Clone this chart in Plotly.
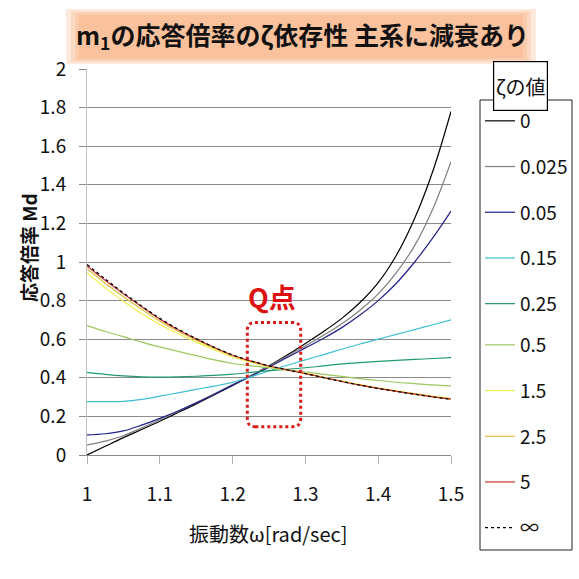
import plotly.graph_objects as go

# ---- data ----
omega = [1.000, 1.025, 1.050, 1.075, 1.100, 1.125, 1.150, 1.175, 1.200, 1.225, 1.250,
         1.275, 1.300, 1.325, 1.350, 1.375, 1.400, 1.425, 1.450, 1.475, 1.500]

md_z0    = [0.00, 0.045, 0.09, 0.132, 0.175, 0.22, 0.265, 0.312, 0.36, 0.41, 0.462,
            0.518, 0.578, 0.64, 0.708, 0.79, 0.893, 1.035, 1.225, 1.47, 1.78]
md_z0025 = [0.052, 0.072, 0.10, 0.14, 0.182, 0.225, 0.27, 0.317, 0.365, 0.41, 0.46,
            0.512, 0.565, 0.62, 0.68, 0.75, 0.835, 0.945, 1.085, 1.275, 1.52]
md_z005  = [0.104, 0.11, 0.125, 0.155, 0.19, 0.228, 0.27, 0.315, 0.362, 0.408, 0.455,
            0.505, 0.555, 0.605, 0.66, 0.725, 0.80, 0.89, 1.0, 1.125, 1.264]
md_z015  = [0.277, 0.277, 0.278, 0.288, 0.305, 0.322, 0.34, 0.357, 0.376, 0.405, 0.435,
            0.465, 0.493, 0.52, 0.548, 0.575, 0.60, 0.625, 0.65, 0.675, 0.70]
md_z025  = [0.428, 0.418, 0.41, 0.405, 0.404, 0.405, 0.408, 0.413, 0.419, 0.428, 0.437,
            0.444, 0.452, 0.462, 0.472, 0.479, 0.485, 0.49, 0.495, 0.50, 0.505]
md_z05   = [0.67, 0.64, 0.613, 0.585, 0.56, 0.537, 0.515, 0.493, 0.474, 0.462, 0.452,
            0.441, 0.43, 0.418, 0.407, 0.396, 0.386, 0.377, 0.37, 0.363, 0.358]
md_z15   = [0.944, 0.866, 0.797, 0.733, 0.676, 0.628, 0.585, 0.545, 0.508, 0.481, 0.458,
            0.44, 0.424, 0.403, 0.383, 0.365, 0.348, 0.333, 0.318, 0.305, 0.293]
md_z25   = [0.965, 0.89, 0.82, 0.755, 0.693, 0.641, 0.595, 0.553, 0.514, 0.485, 0.46,
            0.441, 0.423, 0.402, 0.382, 0.363, 0.346, 0.331, 0.316, 0.302, 0.29]
md_z5    = [0.98, 0.905, 0.835, 0.768, 0.704, 0.649, 0.601, 0.557, 0.517, 0.487, 0.461,
            0.441, 0.422, 0.401, 0.381, 0.362, 0.345, 0.33, 0.315, 0.301, 0.289]
md_zinf  = [0.987, 0.912, 0.84, 0.772, 0.708, 0.652, 0.603, 0.558, 0.518, 0.488, 0.462,
            0.441, 0.422, 0.401, 0.381, 0.362, 0.345, 0.33, 0.315, 0.301, 0.289]

zeta_labels = ["0", "0.025", "0.05", "0.15", "0.25", "0.5", "1.5", "2.5", "5", "∞"]
series = [md_z0, md_z0025, md_z005, md_z015, md_z025, md_z05, md_z15, md_z25, md_z5, md_zinf]
colors = ["#000000", "#7f7f7f", "#22228a", "#3fbfd2", "#1f9a6e", "#9cc85e",
          "#f2ee4c", "#d9c23c", "#c83030", "#000000"]
dashes = ["solid"] * 9 + ["dot"]
widths = [1.2] * 9 + [1.3]

W, H = 579, 579
L, R, T, B = 87, 128, 69, 124


def xp(px):
    return (px - L) / (W - L - R)


def yp(py):
    return (H - B - py) / (H - T - B)


FONT = "Noto Sans CJK JP, sans-serif"

fig = go.Figure()
for i, (lab, ys) in enumerate(zip(zeta_labels, series)):
    fig.add_trace(go.Scatter(
        x=omega, y=ys, mode="lines", name=lab,
        legend="legend" if i < 5 else "legend2",
        legendgroup="g%d" % i,
        line=dict(color=colors[i], width=widths[i], dash=dashes[i], shape="spline", smoothing=1.0),
        hoverinfo="skip",
    ))

shapes = []
# soft orange title background
for (x0, y0, x1, y1) in [(66, 9, 536, 64), (71, 11, 531, 62), (75, 13, 527, 60), (79, 15, 523, 58)]:
    shapes.append(dict(type="rect", xref="paper", yref="paper",
                       x0=xp(x0), x1=xp(x1), y0=yp(y1), y1=yp(y0),
                       fillcolor="#f5a064", opacity=0.22, line=dict(width=0), layer="below"))

# legend frame
shapes.append(dict(type="rect", xref="paper", yref="paper",
                   x0=xp(480), x1=xp(572), y0=yp(550), y1=yp(100),
                   line=dict(color="#222222", width=1), fillcolor="rgba(0,0,0,0)"))

# dotted rounded rectangle around Q point (data coords)
qx0, qx1, qy0, qy1 = 1.2202, 1.2935, 0.147, 0.687
rx, ry = 0.011, 0.042
path = ("M {a},{b} L {c},{b} Q {x1},{b} {x1},{d} L {x1},{e} Q {x1},{y1} {c},{y1} "
        "L {a},{y1} Q {x0},{y1} {x0},{e} L {x0},{d} Q {x0},{b} {a},{b} Z").format(
    a=qx0 + rx, c=qx1 - rx, b=qy0, d=qy0 + ry, e=qy1 - ry, x0=qx0, x1=qx1, y1=qy1)
shapes.append(dict(type="path", xref="x", yref="y", path=path,
                   line=dict(color="#d91c1c", width=3, dash="dot")))

annotations = [
    dict(text="m<sub>1</sub>の応答倍率のζ依存性 主系に減衰あり", xref="paper", yref="paper",
         x=xp(302), y=yp(36), showarrow=False, xanchor="center", yanchor="middle",
         font=dict(family=FONT, size=25, color="#111111", weight="bold")),
    dict(text="応答倍率 Md", xref="paper", yref="paper", x=xp(28), y=yp(248),
         textangle=-90, showarrow=False, xanchor="center", yanchor="middle",
         font=dict(family=FONT, size=19, color="#111111", weight="bold")),
    dict(text="振動数ω[rad/sec]", xref="paper", yref="paper", x=xp(268), y=yp(533),
         showarrow=False, xanchor="center", yanchor="middle",
         font=dict(family=FONT, size=20, color="#111111")),
    dict(text="<b>Q点</b>", xref="x", yref="y", x=1.2548, y=0.822, showarrow=False,
         xanchor="center", yanchor="middle",
         font=dict(family=FONT, size=27, color="#dd1111")),
    dict(text="ζの値", xref="paper", yref="paper", x=xp(520), y=yp(86),
         showarrow=False, xanchor="center", yanchor="middle",
         bgcolor="white", bordercolor="#000000", borderwidth=1.2, borderpad=0,
         width=53, height=48,
         font=dict(family=FONT, size=20, color="#111111")),
]

leg_common = dict(xanchor="left", yanchor="top", borderwidth=0, bgcolor="rgba(255,255,255,0)",
                  font=dict(family=FONT, size=19, color="#111111"),
                  tracegroupgap=18, itemwidth=30)

fig.update_layout(
    width=W, height=H,
    margin=dict(l=L, r=R, t=T, b=B, autoexpand=False),
    paper_bgcolor="white", plot_bgcolor="white",
    showlegend=True,
    legend=dict(x=xp(480), y=yp(102), **leg_common),
    legend2=dict(x=xp(480), y=yp(326), **leg_common),
    shapes=shapes,
    annotations=annotations,
)
fig.update_xaxes(range=[1, 1.5], tickvals=[1, 1.1, 1.2, 1.3, 1.4, 1.5],
                 ticktext=["1", "1.1", "1.2", "1.3", "1.4", "1.5"],
                 showgrid=False, zeroline=False, showline=True, linecolor="#8a8a8a", linewidth=1,
                 ticks="outside", ticklen=8, tickcolor="#b0b0b0", ticklabelstandoff=14,
                 tickfont=dict(family=FONT, size=19, color="#111111"), fixedrange=True)
fig.update_yaxes(range=[0, 2], tickvals=[0, 0.2, 0.4, 0.6, 0.8, 1, 1.2, 1.4, 1.6, 1.8, 2],
                 ticktext=["0", "0.2", "0.4", "0.6", "0.8", "1", "1.2", "1.4", "1.6", "1.8", "2"],
                 showgrid=True, gridcolor="#8a8a8a", gridwidth=1, zeroline=False,
                 showline=True, linecolor="#c0c0c0", linewidth=1,
                 ticks="outside", ticklen=7, tickcolor="#8a8a8a", ticklabelstandoff=9,
                 tickfont=dict(family=FONT, size=19, color="#111111"), fixedrange=True)

fig.write_html("out.html")
